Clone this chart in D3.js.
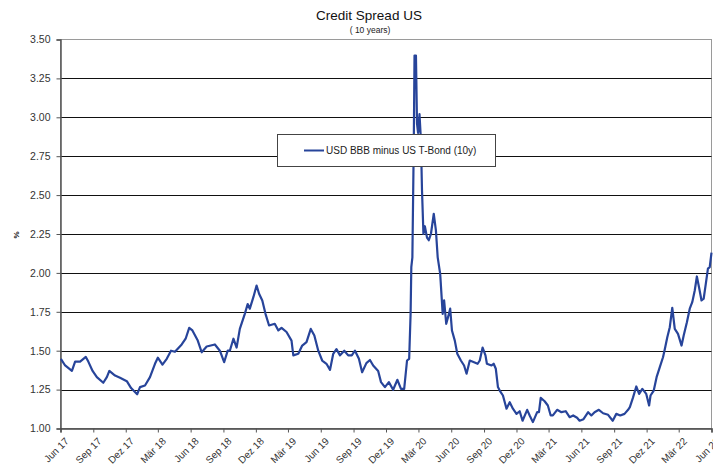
<!DOCTYPE html>
<html><head><meta charset="utf-8">
<script src="https://cdn.jsdelivr.net/npm/d3@7"></script>
<style>
html,body{margin:0;padding:0;background:#fff;}
svg{display:block;font-family:"Liberation Sans",Arial,sans-serif;}
</style></head>
<body><svg id="chart" width="713" height="468"></svg>
<script>
const title = "Credit Spread US";
const subtitle = "( 10 years)";
const seriesName = "USD BBB minus US T-Bond (10y)";
const yTicks = [1.00,1.25,1.50,1.75,2.00,2.25,2.50,2.75,3.00,3.25,3.50];
const tickDates = ["2017-06-01","2017-09-01","2017-12-01","2018-03-01","2018-06-01","2018-09-01","2018-12-01","2019-03-01","2019-06-01","2019-09-01","2019-12-01","2020-03-01","2020-06-01","2020-09-01","2020-12-01","2021-03-01","2021-06-01","2021-09-01","2021-12-01","2022-03-01","2022-06-01"];
const tickLabels = ["Jun 17","Sep 17","Dez 17","Mär 18","Jun 18","Sep 18","Dez 18","Mär 19","Jun 19","Sep 19","Dez 19","Mär 20","Jun 20","Sep 20","Dez 20","Mär 21","Jun 21","Sep 21","Dez 21","Mär 22","Jun 22"];
const dates = [
"2017-06-02","2017-06-14","2017-07-03","2017-07-12","2017-07-26","2017-08-11","2017-08-18","2017-08-30","2017-09-11","2017-09-29",
"2017-10-09","2017-10-16","2017-11-01","2017-11-15","2017-12-04","2017-12-16","2018-01-02","2018-01-10","2018-01-24","2018-02-07",
"2018-02-21","2018-03-01","2018-03-14","2018-03-26","2018-04-07","2018-04-18","2018-05-07","2018-05-18","2018-05-28","2018-06-06",
"2018-06-21","2018-07-02","2018-07-16","2018-08-08","2018-08-22","2018-09-03","2018-09-13","2018-09-19","2018-09-29","2018-10-08",
"2018-10-17","2018-10-31","2018-11-08","2018-11-14","2018-11-24","2018-12-03","2018-12-10","2018-12-19","2018-12-28","2019-01-07",
"2019-01-23","2019-02-02","2019-02-11","2019-02-25","2019-03-11","2019-03-16","2019-03-30","2019-04-10","2019-04-22","2019-05-04",
"2019-05-14","2019-05-25","2019-06-05","2019-06-17","2019-06-27","2019-07-06","2019-07-15","2019-07-25","2019-08-06","2019-08-17",
"2019-08-27","2019-09-05","2019-09-16","2019-09-25","2019-10-07","2019-10-17","2019-10-26","2019-11-09","2019-11-17","2019-11-28",
"2019-12-09","2019-12-21","2020-01-02","2020-01-12","2020-01-21","2020-01-29","2020-02-04","2020-02-08","2020-02-10","2020-02-13",
"2020-02-17","2020-02-19","2020-02-23","2020-02-26","2020-02-29","2020-03-04","2020-03-08","2020-03-11","2020-03-15","2020-03-19",
"2020-03-25","2020-03-30","2020-04-05","2020-04-13","2020-04-19","2020-04-24","2020-05-01","2020-05-08","2020-05-12","2020-05-18",
"2020-05-23","2020-05-29","2020-06-03","2020-06-11","2020-06-18","2020-06-28","2020-07-07","2020-07-14","2020-07-23","2020-08-04",
"2020-08-14","2020-08-20","2020-08-28","2020-09-05","2020-09-09","2020-09-22","2020-09-28","2020-10-04","2020-10-10","2020-10-15",
"2020-10-24","2020-11-03","2020-11-12","2020-11-21","2020-12-01","2020-12-10","2020-12-18","2020-12-31","2021-01-07","2021-01-16",
"2021-01-28","2021-02-02","2021-02-07","2021-02-18","2021-02-27","2021-03-07","2021-03-13","2021-03-25","2021-04-06","2021-04-18",
"2021-04-29","2021-05-09","2021-05-20","2021-05-27","2021-06-07","2021-06-20","2021-06-29","2021-07-08","2021-07-20","2021-08-01",
"2021-08-15","2021-08-28","2021-09-07","2021-09-18","2021-09-30","2021-10-10","2021-10-15","2021-10-24","2021-11-02","2021-11-10",
"2021-11-19","2021-11-30","2021-12-08","2021-12-12","2021-12-21","2021-12-29","2022-01-07","2022-01-16","2022-01-21","2022-01-28",
"2022-02-04","2022-02-11","2022-02-18","2022-02-27","2022-03-09","2022-03-15","2022-03-24","2022-04-01","2022-04-08","2022-04-15",
"2022-04-21","2022-04-27","2022-05-04","2022-05-10","2022-05-16","2022-05-22","2022-05-27","2022-06-01"];
const values = [
1.448,1.405,1.37,1.43,1.43,1.46,1.43,1.37,1.33,1.294,
1.33,1.37,1.34,1.326,1.304,1.26,1.22,1.266,1.276,1.33,
1.416,1.455,1.41,1.448,1.50,1.493,1.54,1.577,1.647,1.63,
1.565,1.49,1.527,1.54,1.50,1.426,1.50,1.50,1.577,1.52,
1.64,1.737,1.80,1.77,1.844,1.919,1.866,1.823,1.737,1.662,
1.673,1.63,1.647,1.62,1.565,1.47,1.48,1.533,1.555,1.64,
1.598,1.50,1.437,1.416,1.377,1.48,1.51,1.47,1.50,1.47,
1.47,1.50,1.448,1.362,1.42,1.44,1.405,1.37,1.298,1.266,
1.298,1.249,1.313,1.255,1.255,1.437,1.448,1.737,2.037,2.10,
2.85,3.397,3.397,2.96,2.90,3.02,2.85,2.53,2.251,2.30,
2.227,2.21,2.25,2.38,2.273,2.10,1.994,1.737,1.823,1.673,
1.715,1.77,1.63,1.565,1.48,1.437,1.405,1.352,1.437,1.426,
1.416,1.437,1.52,1.47,1.416,1.405,1.416,1.384,1.266,1.244,
1.212,1.127,1.169,1.127,1.094,1.111,1.05,1.12,1.084,1.041,
1.105,1.105,1.197,1.175,1.148,1.084,1.084,1.12,1.105,1.111,
1.073,1.084,1.069,1.05,1.06,1.105,1.084,1.105,1.12,1.098,
1.088,1.05,1.094,1.084,1.094,1.12,1.137,1.20,1.27,1.222,
1.255,1.222,1.148,1.212,1.244,1.33,1.394,1.458,1.51,1.587,
1.651,1.776,1.64,1.608,1.533,1.598,1.683,1.77,1.812,1.887,
1.977,1.908,1.823,1.834,1.93,2.027,2.037,2.13];

const parse = d3.timeParse("%Y-%m-%d");
const data = dates.map((d,i)=>({date:parse(d), value:values[i]}));

const svg = d3.select("#chart");
const L = 60.5, R = 711.5, T = 39.5, B = 428.5;
const x = d3.scaleTime().domain([parse("2017-06-01"), parse("2022-06-01")]).range([L, R]);
const y = d3.scaleLinear().domain([1, 3.5]).range([B, T]);

// title
svg.append("text").attr("x",369).attr("y",20).attr("text-anchor","middle")
  .attr("font-size",13.5).attr("fill","#111").text(title);
svg.append("text").attr("x",370).attr("y",33).attr("text-anchor","middle")
  .attr("font-size",8.5).attr("fill","#222").text(subtitle);

// frame
svg.append("rect").attr("x",L).attr("y",T).attr("width",R-L).attr("height",B-T)
  .attr("fill","none").attr("stroke","#9a9a9a").attr("stroke-width",1);

// gridlines
svg.append("g").selectAll("line").data(yTicks.filter(v=>v>1 && v<3.5)).join("line")
  .attr("x1",L).attr("x2",R).attr("y1",d=>Math.round(y(d))+0.5).attr("y2",d=>Math.round(y(d))+0.5)
  .attr("stroke","#111").attr("stroke-width",1);

// y axis
const yAxis = d3.axisLeft(y).tickValues(yTicks).tickFormat(d3.format(".2f")).tickSize(4).tickPadding(6);
const gy = svg.append("g").attr("transform",`translate(${L},0)`).call(yAxis);
gy.select(".domain").attr("stroke","#555").attr("stroke-width",1.5);
gy.selectAll(".tick line").attr("stroke","#555");
gy.selectAll(".tick text").attr("font-size",10.5).attr("fill","#333").attr("font-family","Liberation Sans, Arial, sans-serif");

// x axis
const xAxis = d3.axisBottom(x).tickValues(tickDates.map(parse)).tickFormat((d,i)=>tickLabels[i]).tickSize(4).tickPadding(2);
const gx = svg.append("g").attr("transform",`translate(0,${B})`).call(xAxis);
gx.select(".domain").attr("stroke","#444").attr("stroke-width",1.5);
gx.selectAll(".tick line").attr("stroke","#555");
gx.selectAll(".tick text").attr("font-size",10).attr("fill","#333")
  .attr("font-family","Liberation Sans, Arial, sans-serif")
  .attr("text-anchor","end").attr("dy","0.3em")
  .attr("transform","translate(2,7) rotate(-45)");

// y label
svg.append("text").attr("transform","translate(16,235) rotate(-90)").attr("text-anchor","middle")
  .attr("dy","0.35em").attr("font-size",8).attr("font-weight","bold").attr("fill","#111").text("%");

// line
const line = d3.line().x(d=>x(d.date)).y(d=>y(d.value));
svg.append("path").datum(data).attr("d",line).attr("fill","none")
  .attr("stroke","#27449a").attr("stroke-width",2.2).attr("stroke-linejoin","round");

// legend
const lg = svg.append("g");
lg.append("rect").attr("x",277.5).attr("y",134.5).attr("width",218).attr("height",32)
  .attr("fill","#fff").attr("stroke","#444").attr("stroke-width",1);
lg.append("line").attr("x1",304).attr("x2",324).attr("y1",150.5).attr("y2",150.5)
  .attr("stroke","#27449a").attr("stroke-width",2);
lg.append("text").attr("x",326).attr("y",150.5).attr("dy","0.35em").attr("font-size",10)
  .attr("fill","#222").text(seriesName);
</script></body></html>
